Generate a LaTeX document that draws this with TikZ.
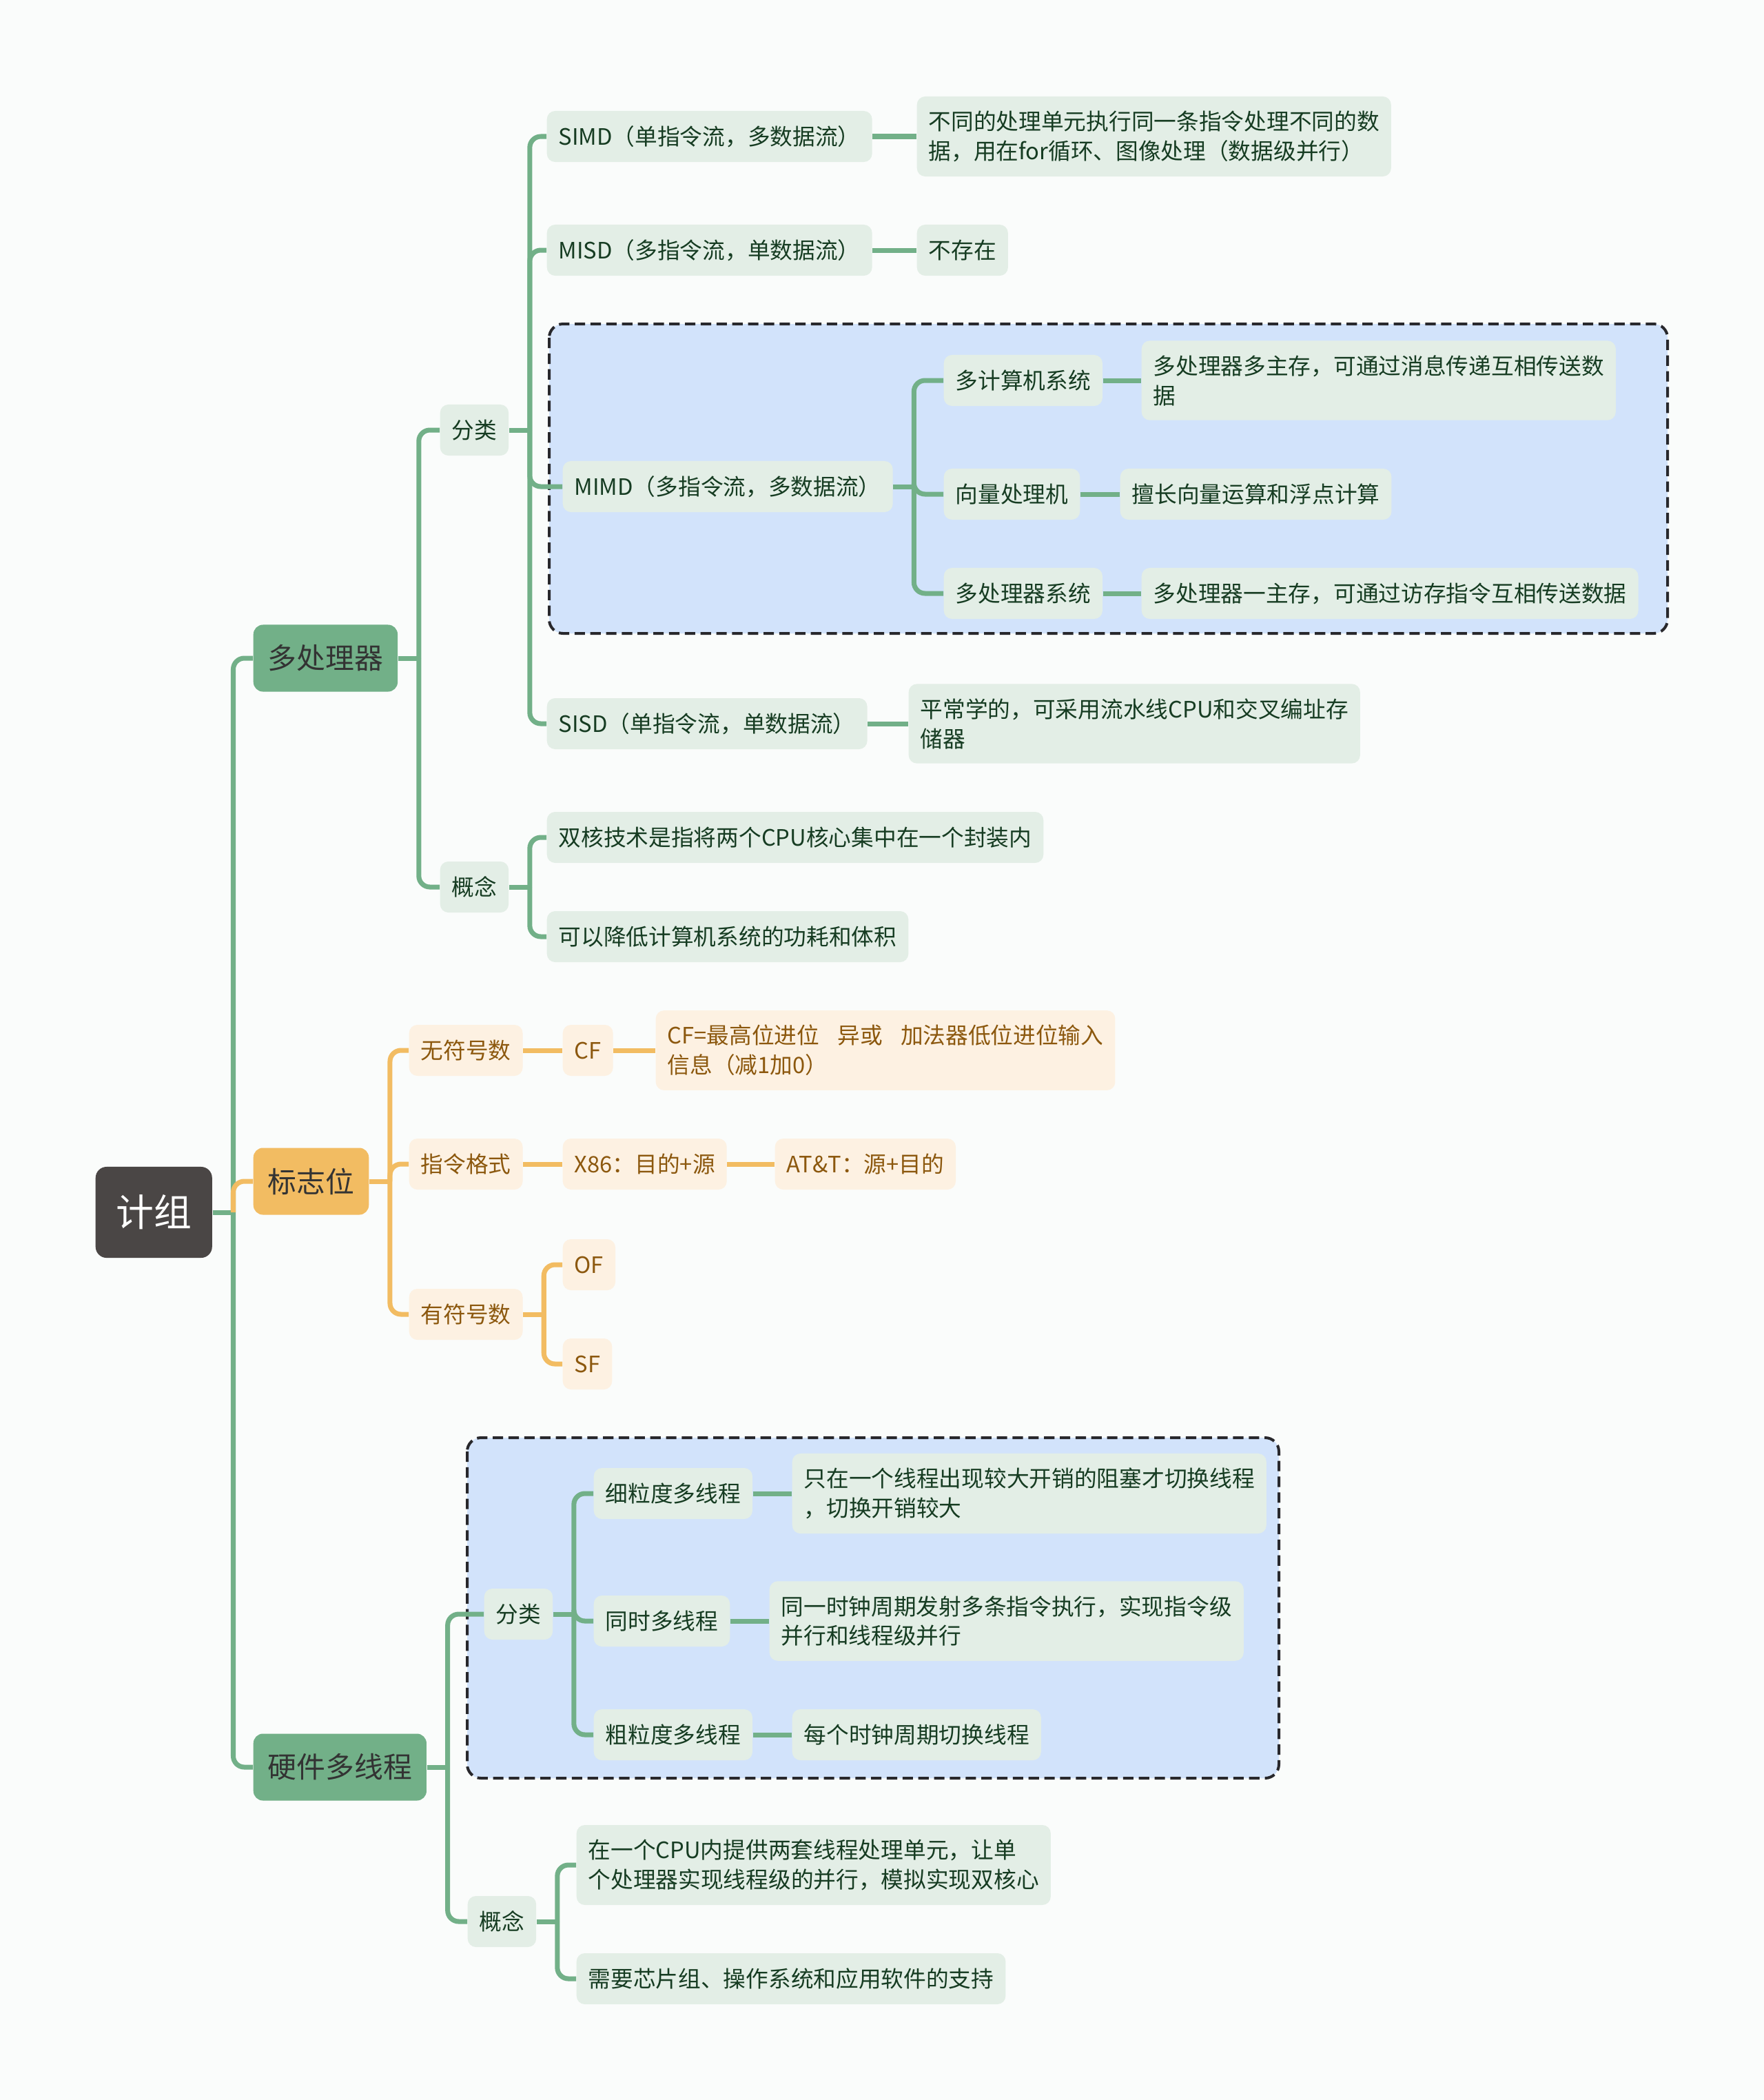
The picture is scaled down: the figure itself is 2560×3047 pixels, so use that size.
\documentclass[tikz,border=0pt]{standalone}
\usepackage{fontspec}
\setmainfont{Noto Sans CJK SC}
\usetikzlibrary{positioning}
\definecolor{paper}{RGB}{250,252,251}
\definecolor{rootc}{RGB}{74,70,69}
\definecolor{greenm}{RGB}{114,176,136}
\definecolor{greenl}{RGB}{227,238,230}
\definecolor{greent}{RGB}{22,60,34}
\definecolor{orangem}{RGB}{242,188,98}
\definecolor{orangel}{RGB}{253,241,226}
\definecolor{oranget}{RGB}{140,88,14}
\definecolor{groupc}{RGB}{210,227,251}
\definecolor{groupl}{RGB}{40,40,44}
\tikzset{
          leaf/.style={anchor=west,rounded corners=0.12cm,fill=greenl,text=greent,
            inner xsep=0.17cm,inner ysep=0.21cm,minimum height=0.74cm,align=left,
            font=\fontsize{9.3}{12.2}\selectfont},
          oleaf/.style={leaf,fill=orangel,text=oranget},
          topic/.style={anchor=west,rounded corners=0.14cm,fill=greenm,text=black!80,
            inner xsep=0.21cm,minimum height=0.97cm,font=\fontsize{11.9}{14}\selectfont},
          otopic/.style={topic,fill=orangem},
          rootbox/.style={anchor=west,rounded corners=0.16cm,fill=rootc,text=white,
            minimum width=1.69cm,minimum height=1.32cm,font=\fontsize{15.6}{18}\selectfont},
          link/.style={draw=greenm,line width=2pt,rounded corners=0.16cm},
          olink/.style={link,draw=orangem},
          group/.style={fill=groupc,draw=groupl,line width=1.14pt,
            dash pattern=on 4.3pt off 2.2pt,rounded corners=0.2cm}
        }
\newcommand\Stub[2][link]{%
          \draw[#1] (#2.east) -- ++(30,0);
        }
\newcommand\Fork[3][link]{%
          \draw[#1] (#2.east) ++(30,0) |- (#3.west);
        }

\begin{document}
\begin{tikzpicture}[x=0.01cm,y=-0.01cm]
            \fill[paper] (0,0) rectangle (2560,3047);
            \useasboundingbox (0,0) rectangle (2560,3047);
            \draw[group] (797,470) rectangle (2420,919);
            \draw[group] (678,2086) rectangle (1856,2580);

            \node[rootbox] (root) at (138,1759) {计组};
            \node[topic] (mp) at (367,955) {多处理器};
            \node[otopic] (flag) at (367,1714) {标志位};
            \node[topic] (hw) at (367,2564) {硬件多线程};

            % 多处理器
            \node[leaf] (mpcls) at (638,624) {分类};
            \node[leaf] (mpcon) at (638,1287) {概念};
            \node[leaf] (simd) at (793,198) {SIMD（单指令流，多数据流）};
            \node[leaf] (simdd) at (1330,198) {不同的处理单元执行同一条指令处理不同的数\\据，用在for循环、图像处理（数据级并行）};
            \node[leaf] (misd) at (793,363) {MISD（多指令流，单数据流）};
            \node[leaf] (misdd) at (1330,363) {不存在};
            \node[leaf] (mimd) at (816,706) {MIMD（多指令流，多数据流）};
            \node[leaf] (mimd1) at (1369,552) {多计算机系统};
            \node[leaf] (mimd1d) at (1656,552) {多处理器多主存，可通过消息传递互相传送数\\据};
            \node[leaf] (mimd2) at (1369,717) {向量处理机};
            \node[leaf] (mimd2d) at (1625,717) {擅长向量运算和浮点计算};
            \node[leaf] (mimd3) at (1369,861) {多处理器系统};
            \node[leaf] (mimd3d) at (1656,861) {多处理器一主存，可通过访存指令互相传送数据};
            \node[leaf] (sisd) at (793,1050) {SISD（单指令流，单数据流）};
            \node[leaf] (sisdd) at (1318,1050) {平常学的，可采用流水线CPU和交叉编址存\\储器};
            \node[leaf] (con1) at (793,1215) {双核技术是指将两个CPU核心集中在一个封装内};
            \node[leaf] (con2) at (793,1359) {可以降低计算机系统的功耗和体积};

            % 标志位
            \node[oleaf] (uns) at (593,1524) {无符号数};
            \node[oleaf] (cf) at (816,1524) {CF};
            \node[oleaf] (cfd) at (951,1524) {CF=最高位进位\hspace{0.8em}异或\hspace{0.8em}加法器低位进位输入\\信息（减1加0）};
            \node[oleaf] (fmt) at (593,1689) {指令格式};
            \node[oleaf] (x86) at (816,1689) {X86：目的+源};
            \node[oleaf] (att) at (1124,1689) {AT\&T：源+目的};
            \node[oleaf] (sgn) at (593,1907) {有符号数};
            \node[oleaf] (of) at (816,1835) {OF};
            \node[oleaf] (sf) at (816,1979) {SF};

            % 硬件多线程
            \node[leaf] (hwcls) at (702,2342) {分类};
            \node[leaf] (fine) at (861,2167) {细粒度多线程};
            \node[leaf] (fined) at (1149,2167) {只在一个线程出现较大开销的阻塞才切换线程\\，切换开销较大};
            \node[leaf] (smt) at (861,2352) {同时多线程};
            \node[leaf] (smtd) at (1116,2352) {同一时钟周期发射多条指令执行，实现指令级\\并行和线程级并行};
            \node[leaf] (coarse) at (861,2517) {粗粒度多线程};
            \node[leaf] (coarsed) at (1149,2517) {每个时钟周期切换线程};
            \node[leaf] (hwcon) at (678,2788) {概念};
            \node[leaf] (hwcon1) at (836,2706) {在一个CPU内提供两套线程处理单元，让单\\个处理器实现线程级的并行，模拟实现双核心};
            \node[leaf] (hwcon2) at (836,2871) {需要芯片组、操作系统和应用软件的支持};

            \Stub{root} \Fork{root}{mp} \Fork{root}{hw} \Fork[olink]{root}{flag}

            \Stub{mp} \Fork{mp}{mpcls} \Fork{mp}{mpcon}
            \Stub{mpcls}
            \Fork{mpcls}{simd} \Fork{mpcls}{misd} \Fork{mpcls}{mimd} \Fork{mpcls}{sisd}
            \draw[link] (simd) -- (simdd);
            \draw[link] (misd) -- (misdd);
            \draw[link] (sisd) -- (sisdd);
            \Stub{mimd} \Fork{mimd}{mimd1} \Fork{mimd}{mimd2} \Fork{mimd}{mimd3}
            \draw[link] (mimd1) -- (mimd1d);
            \draw[link] (mimd2) -- (mimd2d);
            \draw[link] (mimd3) -- (mimd3d);
            \Stub{mpcon} \Fork{mpcon}{con1} \Fork{mpcon}{con2}

            \Stub[olink]{flag}
            \Fork[olink]{flag}{uns} \Fork[olink]{flag}{fmt} \Fork[olink]{flag}{sgn}
            \draw[olink] (uns) -- (cf);
            \draw[olink] (cf) -- (cfd);
            \draw[olink] (fmt) -- (x86);
            \draw[olink] (x86) -- (att);
            \Stub[olink]{sgn} \Fork[olink]{sgn}{of} \Fork[olink]{sgn}{sf}

            \Stub{hw} \Fork{hw}{hwcls} \Fork{hw}{hwcon}
            \Stub{hwcls}
            \Fork{hwcls}{fine} \Fork{hwcls}{smt} \Fork{hwcls}{coarse}
            \draw[link] (fine) -- (fined);
            \draw[link] (smt) -- (smtd);
            \draw[link] (coarse) -- (coarsed);
            \Stub{hwcon} \Fork{hwcon}{hwcon1} \Fork{hwcon}{hwcon2}
          \end{tikzpicture}
\end{document}
